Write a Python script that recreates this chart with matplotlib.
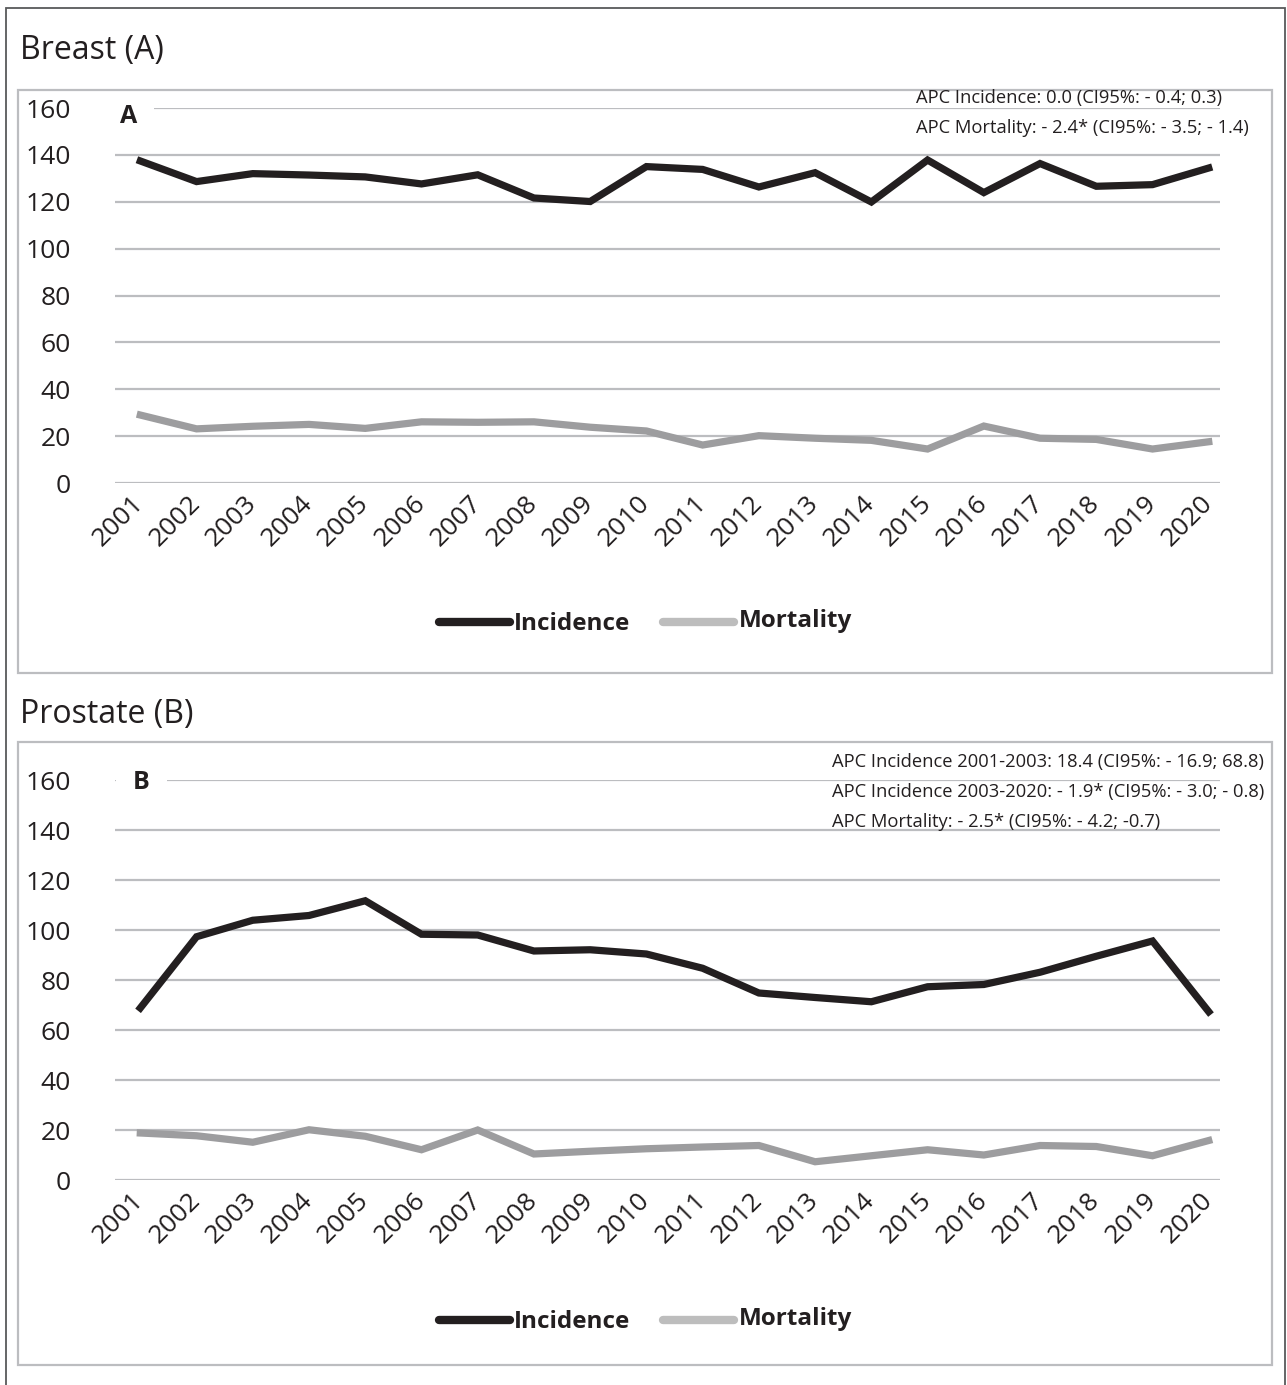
import matplotlib
matplotlib.use("Agg")
import matplotlib.pyplot as plt
from matplotlib.patches import Rectangle
from matplotlib.lines import Line2D

plt.rcParams['font.family'] = ['Open Sans', 'DejaVu Sans']

years = list(range(2001, 2021))

breast_incidence = [137.4, 128.6, 132.0, 131.4, 130.6, 127.6, 131.5, 121.6, 120.1, 135.0,
                    133.8, 126.3, 132.4, 119.9, 137.8, 123.9, 136.3, 126.6, 127.3, 134.4]
breast_mortality = [29.0, 23.1, 24.2, 25.0, 23.3, 26.1, 25.9, 26.1, 23.8, 22.2,
                    16.2, 20.2, 19.1, 18.2, 14.5, 24.3, 19.1, 18.6, 14.5, 17.6]

prostate_incidence = [68.8, 97.3, 103.9, 105.8, 111.7, 98.3, 98.0, 91.6, 92.1, 90.4,
                      84.7, 74.8, 73.0, 71.3, 77.3, 78.2, 83.1, 89.5, 95.6, 67.3]
prostate_mortality = [18.8, 17.7, 15.1, 20.1, 17.5, 12.1, 20.0, 10.4, 11.5, 12.5,
                      13.2, 13.8, 7.3, 9.7, 12.1, 10.0, 13.8, 13.4, 9.7, 15.8]

yticks = [0, 20, 40, 60, 80, 100, 120, 140, 160]

apc_breast = ["APC Incidence: 0.0 (CI95%: - 0.4; 0.3)",
              "APC Mortality: - 2.4* (CI95%: - 3.5; - 1.4)"]
apc_prostate = ["APC Incidence 2001-2003: 18.4 (CI95%: - 16.9; 68.8)",
                "APC Incidence 2003-2020: - 1.9* (CI95%: - 3.0; - 0.8)",
                "APC Mortality: - 2.5* (CI95%: - 4.2; -0.7)"]

W, H = 1287, 1385
fig = plt.figure(figsize=(W / 100, H / 100), dpi=100)

INC_COLOR = '#231f20'
MORT_COLOR = '#9d9d9f'
GRID_COLOR = '#bcbdc0'
TEXT_COLOR = '#231f20'


def px_box(x0, y0, x1, y1):
    # pixel box (top-left origin) -> figure fraction rect
    return [x0 / W, 1 - y1 / H, (x1 - x0) / W, (y1 - y0) / H]


def frame(x0, y0, x1, y1, color, lw):
    fig.patches.append(Rectangle((x0 / W, 1 - y1 / H), (x1 - x0) / W, (y1 - y0) / H,
                                 transform=fig.transFigure, fill=False,
                                 edgecolor=color, linewidth=lw))


def panel(rect, inc, mort, letter, letter_pos, apc, apc_x, apc_y, legend_y):
    ax = fig.add_axes(rect)
    ax.plot(years, inc, color=INC_COLOR, lw=5.2, solid_joinstyle='miter', zorder=3)
    ax.plot(years, mort, color=MORT_COLOR, lw=5.2, solid_joinstyle='miter', zorder=3)
    ax.set_ylim(0, 160)
    ax.set_xlim(2001 - 0.45, 2020 + 0.2)
    ax.set_yticks(yticks)
    ax.set_xticks(years)
    ax.set_xticklabels([str(y) for y in years], rotation=45, ha='right', va='center',
                       rotation_mode='anchor')
    ax.tick_params(axis='y', length=0, pad=32, labelsize=19, labelcolor=TEXT_COLOR)
    ax.tick_params(axis='x', length=0, pad=12, labelsize=19, labelcolor=TEXT_COLOR)
    ax.grid(axis='y', color=GRID_COLOR, lw=1.6)
    ax.set_axisbelow(True)
    for s in ax.spines.values():
        s.set_visible(False)
    ax.text(letter_pos[0], letter_pos[1], letter, fontsize=18, fontweight='bold',
            va='center', ha='left', color=TEXT_COLOR,
            bbox=dict(facecolor='white', edgecolor='none', pad=12))
    for i, line in enumerate(apc):
        fig.text(apc_x / W, 1 - (apc_y + 30 * i) / H, line, fontsize=13.2,
                 color=TEXT_COLOR, va='center', ha='left')
    # legend
    ly = 1 - legend_y / H
    fig.add_artist(Line2D([439 / W, 510 / W], [ly, ly], color=INC_COLOR, lw=6,
                          solid_capstyle='round', transform=fig.transFigure))
    fig.text(514 / W, ly - 2 / H, "Incidence", fontsize=17.5, fontweight='bold',
             color=TEXT_COLOR, va='center', ha='left')
    fig.add_artist(Line2D([663 / W, 734 / W], [ly, ly], color='#bdbdbd', lw=6,
                          solid_capstyle='round', transform=fig.transFigure))
    fig.text(739 / W, ly + 1 / H, "Mortality", fontsize=17.5, fontweight='bold',
             color=TEXT_COLOR, va='center', ha='left')
    return ax


# outer frame and panel boxes
frame(6, 8, 1285, 1400, '#58595b', 1.3)
frame(18, 90, 1272, 673, '#bcbdc0', 1.6)
frame(18, 742, 1272, 1365, '#bcbdc0', 1.6)

fig.text(20 / W, 1 - 50 / H, "Breast (A)", fontsize=23, color=TEXT_COLOR, va='center', ha='left')
fig.text(20 / W, 1 - 715 / H, "Prostate (B)", fontsize=23, color=TEXT_COLOR, va='center', ha='left')

panel(px_box(115, 108, 1220, 483), breast_incidence, breast_mortality, "A", (2000.64, 156.5),
      apc_breast, 916, 98, 622)
panel(px_box(115, 780, 1220, 1180), prostate_incidence, prostate_mortality, "B", (2000.87, 159),
      apc_prostate, 832, 762, 1320)

fig.savefig("out.png", dpi=100)
